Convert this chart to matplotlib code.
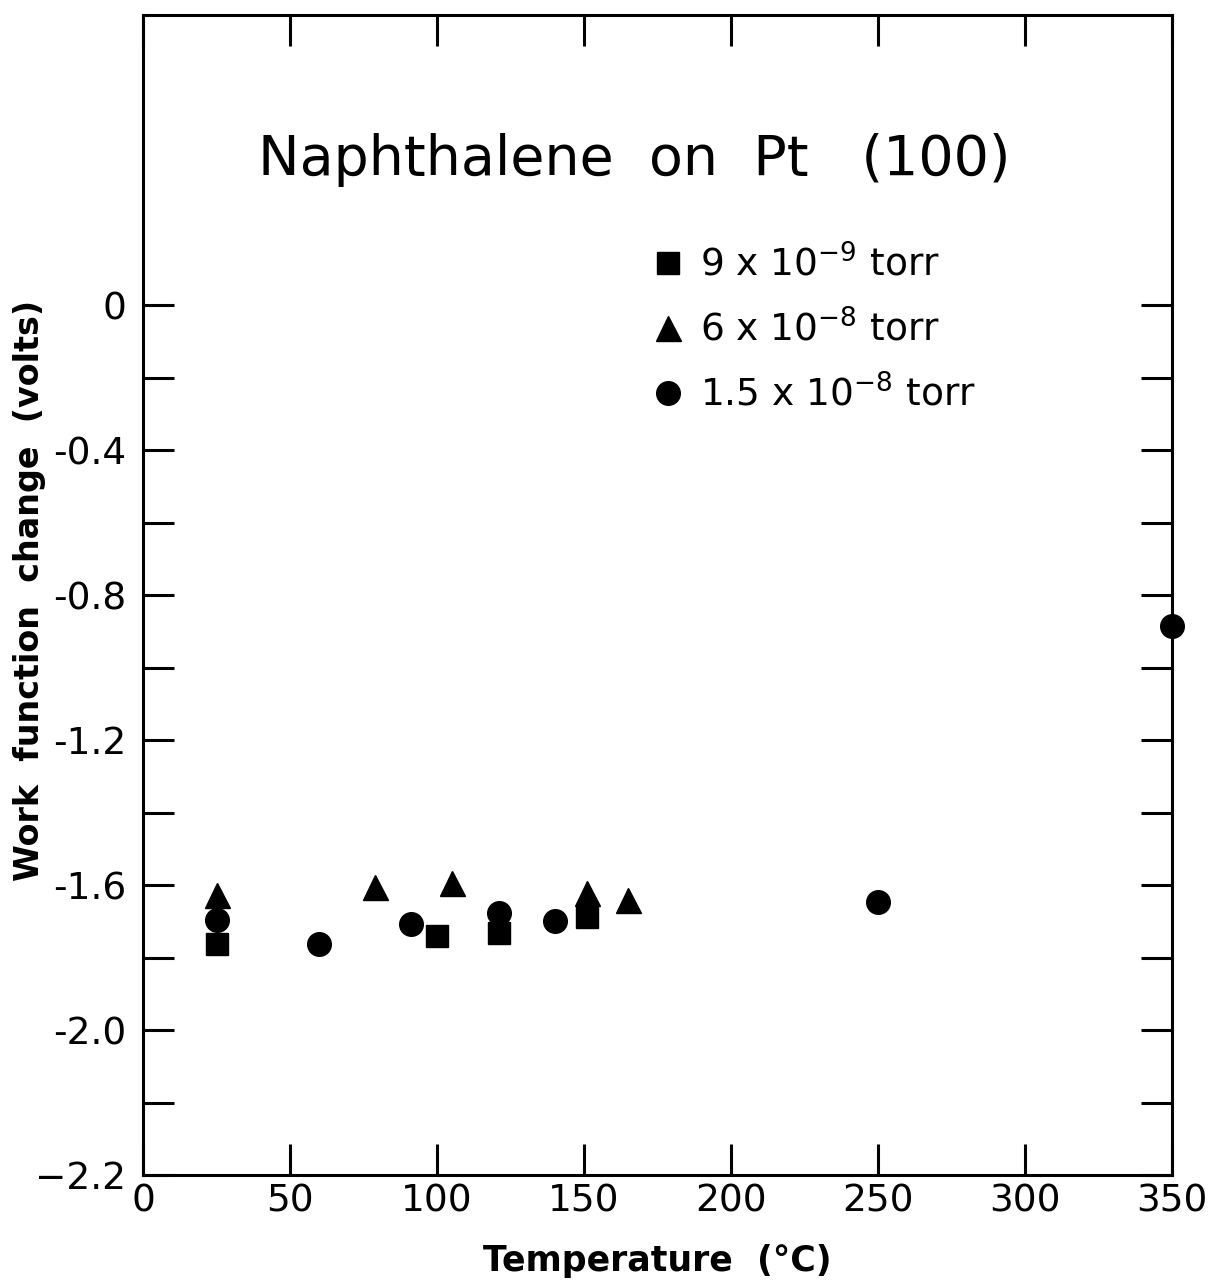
import numpy as np
import matplotlib
matplotlib.use('Agg')
import matplotlib.pyplot as plt

# readings taken off the scanned figure
sq_T = [25, 100, 121, 151]
sq_dphi = [-1.763, -1.740, -1.733, -1.688]

tri_T = [25, 79, 105, 151, 165]
tri_dphi = [-1.628, -1.605, -1.595, -1.623, -1.640]

circ_T = [25, 60, 91, 121, 140, 250, 350]
circ_dphi = [-1.697, -1.763, -1.708, -1.678, -1.700, -1.647, -0.886]

labels = ['9 x 10$^{-9}$ torr', '6 x 10$^{-8}$ torr', '1.5 x 10$^{-8}$ torr']

xticks = [0, 50, 100, 150, 200, 250, 300, 350]
yticks = [0, -0.4, -0.8, -1.2, -1.6, -2.0, -2.4]
yticklabels = ['0', '-0.4', '-0.8', '-1.2', '-1.6', '-2.0', '\u22122.2']

plt.rcParams['font.family'] = 'DejaVu Sans'

fig = plt.figure(figsize=(12.1, 12.87), dpi=100)
ax = fig.add_axes([0.1182, 0.0870, 0.8504, 0.9013])

ax.plot(sq_T, sq_dphi, 's', color='k', ms=15.5, ls='none', label=labels[0], clip_on=False)
ax.plot(tri_T, tri_dphi, '^', color='k', ms=18, ls='none', label=labels[1], clip_on=False)
ax.plot(circ_T, circ_dphi, 'o', color='k', ms=17, ls='none', label=labels[2], clip_on=False, zorder=5)

ax.set_xlim(0, 350)
ax.set_ylim(-2.4, 0.8)

for sp in ax.spines.values():
    sp.set_linewidth(2.2)

# ticks: labelled ones on bottom/left, inward ticks on all sides
ax.set_xticks(xticks)
ax.set_xticklabels([str(t) for t in xticks])
ax.set_yticks(yticks)
ax.set_yticklabels(yticklabels)
ax.set_yticks(np.arange(-2.2, 0.01, 0.2), minor=True)
ax.tick_params(axis='both', which='both', direction='in', width=2.2, top=True, right=True)
ax.tick_params(axis='both', which='major', length=22, labelsize=27)
ax.tick_params(axis='x', which='major', pad=6)
ax.tick_params(axis='y', which='major', pad=12)
ax.tick_params(axis='y', which='minor', length=22)
ax.tick_params(axis='x', which='minor', length=0)

ax.set_xlabel('Temperature  (\u00b0C)', fontsize=25, fontweight='bold', labelpad=18)
fig.text(30 / 1210, 1 - 590 / 1287, 'Work  function  change  (volts)', fontsize=24,
         fontweight='bold', rotation=90, ha='center', va='center')

ax.text(167, 0.40, 'Naphthalene  on  Pt   (100)', fontsize=40, ha='center', va='center')

ax.legend(loc='upper left', bbox_to_anchor=(0.474, 0.815), frameon=False, fontsize=27,
          handletextpad=0.25, labelspacing=0.7, borderaxespad=0, handlelength=1.2)

fig.savefig('out.png', dpi=100)
